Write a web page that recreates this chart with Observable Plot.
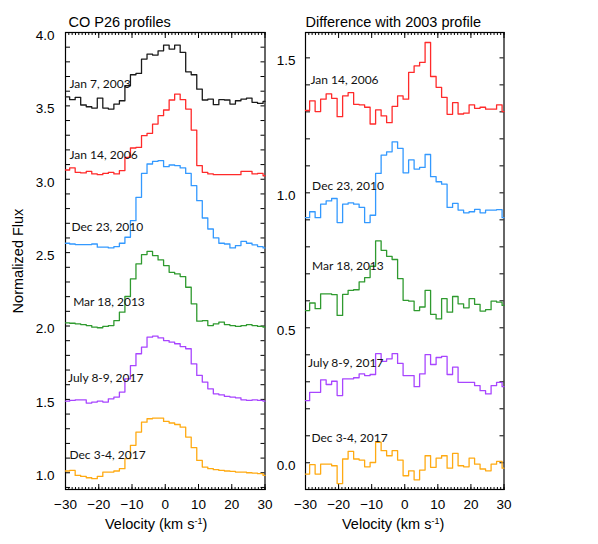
<!DOCTYPE html>
<html><head><meta charset="utf-8">
<script src="https://cdn.jsdelivr.net/npm/d3@7"></script>
<script src="https://cdn.jsdelivr.net/npm/@observablehq/plot@0.6"></script>
<style>
body{margin:0;background:#fff;}
#wrap{position:relative;width:598px;height:544px;overflow:hidden;}
#wrap svg{position:absolute;top:0;background:transparent;max-width:none;}
</style></head><body><div id="wrap"></div>
<script>
// Velocity bin left edges (km/s)
const velocityEdges = [-30, -28.75, -27.09, -25.43, -23.76, -22.10, -20.44, -18.78, -17.12, -15.45, -13.79, -12.13, -10.47, -8.81, -7.14, -5.48, -3.82, -2.16, -0.50, 1.17, 2.83, 4.49, 6.15, 7.81, 9.48, 11.14, 12.80, 14.46, 16.12, 17.79, 19.45, 21.11, 22.77, 24.43, 26.10, 27.76, 29.42];

// Left panel: CO P26 profiles (normalized flux, offset)
const jan2003 = [3.562, 3.542, 3.558, 3.506, 3.494, 3.485, 3.553, 3.485, 3.478, 3.512, 3.535, 3.637, 3.712, 3.721, 3.819, 3.853, 3.846, 3.875, 3.914, 3.887, 3.914, 3.864, 3.732, 3.712, 3.614, 3.540, 3.546, 3.508, 3.542, 3.540, 3.512, 3.535, 3.546, 3.553, 3.524, 3.517, 3.531];
const jan2006 = [3.063, 3.077, 3.047, 3.043, 3.054, 3.036, 3.031, 3.040, 3.047, 3.036, 3.059, 3.149, 3.213, 3.217, 3.297, 3.313, 3.376, 3.433, 3.472, 3.540, 3.580, 3.542, 3.478, 3.335, 3.093, 3.047, 3.036, 3.031, 3.031, 3.031, 3.031, 3.031, 3.054, 3.054, 3.036, 3.040, 3.024];
const dec2010 = [2.564, 2.559, 2.555, 2.555, 2.555, 2.559, 2.537, 2.537, 2.532, 2.541, 2.564, 2.605, 2.718, 2.877, 3.040, 3.104, 3.122, 3.127, 3.086, 3.097, 3.093, 3.077, 3.040, 2.956, 2.854, 2.736, 2.661, 2.600, 2.564, 2.559, 2.532, 2.548, 2.577, 2.564, 2.553, 2.541, 2.532];
const mar2013 = [2.022, 2.019, 2.015, 2.010, 2.003, 1.992, 1.988, 1.997, 2.003, 2.037, 2.094, 2.201, 2.321, 2.423, 2.487, 2.509, 2.480, 2.450, 2.412, 2.366, 2.355, 2.337, 2.264, 2.151, 2.033, 2.037, 2.003, 2.015, 2.026, 2.010, 2.003, 1.997, 2.003, 2.010, 2.003, 1.997, 1.992];
const jul2017 = [1.488, 1.493, 1.497, 1.497, 1.475, 1.482, 1.488, 1.482, 1.504, 1.516, 1.550, 1.640, 1.730, 1.811, 1.856, 1.924, 1.931, 1.919, 1.901, 1.890, 1.879, 1.860, 1.845, 1.742, 1.663, 1.618, 1.572, 1.538, 1.531, 1.520, 1.516, 1.511, 1.497, 1.493, 1.497, 1.493, 1.488];
const dec2017 = [1.012, 1.016, 0.982, 0.975, 0.966, 0.960, 0.975, 1.005, 1.005, 1.012, 1.028, 1.096, 1.187, 1.277, 1.345, 1.368, 1.373, 1.373, 1.350, 1.339, 1.329, 1.311, 1.243, 1.171, 1.084, 1.039, 1.028, 1.021, 1.016, 1.012, 1.010, 1.005, 1.005, 1.000, 0.998, 0.994, 0.982];

// Right panel: difference with 2003 profile (offset)
const diff2006 = [1.305, 1.341, 1.301, 1.347, 1.367, 1.350, 1.282, 1.359, 1.371, 1.328, 1.326, 1.317, 1.255, 1.307, 1.285, 1.260, 1.320, 1.359, 1.347, 1.446, 1.470, 1.483, 1.557, 1.431, 1.391, 1.354, 1.291, 1.334, 1.292, 1.295, 1.326, 1.313, 1.317, 1.310, 1.310, 1.326, 1.301];
const diff2010 = [0.908, 0.930, 0.908, 0.958, 0.970, 0.979, 0.890, 0.958, 0.963, 0.958, 0.946, 0.890, 0.917, 1.072, 1.140, 1.152, 1.189, 1.165, 1.074, 1.122, 1.088, 1.094, 1.142, 1.060, 1.041, 1.032, 0.946, 0.961, 0.936, 0.926, 0.930, 0.939, 0.926, 0.936, 0.936, 0.938, 0.908];
const diff2013 = [0.564, 0.592, 0.571, 0.626, 0.626, 0.623, 0.546, 0.624, 0.639, 0.641, 0.670, 0.686, 0.728, 0.822, 0.787, 0.765, 0.753, 0.682, 0.602, 0.599, 0.564, 0.577, 0.639, 0.550, 0.533, 0.608, 0.558, 0.616, 0.589, 0.574, 0.608, 0.587, 0.562, 0.567, 0.599, 0.595, 0.583];
const diffJul2017 = [0.230, 0.261, 0.261, 0.307, 0.290, 0.302, 0.249, 0.311, 0.311, 0.315, 0.329, 0.323, 0.327, 0.404, 0.376, 0.385, 0.404, 0.368, 0.323, 0.323, 0.282, 0.329, 0.401, 0.364, 0.390, 0.394, 0.327, 0.354, 0.298, 0.298, 0.298, 0.286, 0.267, 0.255, 0.286, 0.298, 0.282];
const diffDec2017 = [-0.042, -0.007, -0.042, -0.005, -0.005, -0.011, -0.077, 0.014, 0.042, 0.014, 0.010, -0.015, 0.001, 0.076, 0.045, 0.026, 0.045, 0.010, -0.048, -0.030, -0.063, -0.027, 0.026, -0.017, 0.017, 0.026, -0.020, 0.035, -0.011, -0.015, 0.017, -0.005, -0.023, -0.030, -0.005, 0.005, -0.020];

// Labels
const leftDates = ["Jan 7, 2003", "Jan 14, 2006", "Dec 23, 2010", "Mar 18, 2013", "July 8-9, 2017", "Dec 3-4, 2017"];
const rightDates = ["Jan 14, 2006", "Dec 23, 2010", "Mar 18, 2013", "July 8-9, 2017", "Dec 3-4, 2017"];
const leftLabelX = [-28.8, -28.8, -28.2, -27.7, -29.25, -28.8];
const leftLabelY = [3.651, 3.161, 2.671, 2.160, 1.643, 1.118];
const rightLabelX = [-28.5, -28.0, -28.0, -29.25, -28.2];
const rightLabelY = [1.416, 1.023, 0.727, 0.368, 0.090];

// Ticks
const xTickLabels = [-30, -20, -10, 0, 10, 20, 30];
const xMinorTicks = d3.range(-30, 31, 1);
const leftYTickLabels = [1.0, 1.5, 2.0, 2.5, 3.0, 3.5, 4.0];
const leftYMinor = d3.range(9, 41, 1).map(d => d / 10);
const rightYTickLabels = [0.0, 0.5, 1.0, 1.5];
const rightYMinor = d3.range(0, 16, 1).map(d => d / 10);

const leftColors = ["#1a1a1a", "#ff2a2a", "#3399ff", "#2f9a2f", "#a845ff", "#ffaa12"];
const rightColors = ["#ff2a2a", "#3399ff", "#2f9a2f", "#a845ff", "#ffaa12"];

function stepRows(vals, idx) {
  const rows = velocityEdges.map((v, i) => ({v, f: vals[i], s: idx}));
  rows.push({v: 30, f: vals[vals.length - 1], s: idx});
  return rows;
}

const MT = 32, MB = 55, H = 544, FH = H - MT - MB;
const fmtX = d => d < 0 ? "\u2212" + Math.abs(d) : String(d);
const FONT = "'Liberation Sans', Arial, Helvetica, sans-serif";

function panel({width, ml, mr, yDomain, series, colors, dates, lx, ly, yLabels, yMinor, title, titleDx, yTitle, labelPad}) {
  const FW = width - ml - mr;
  const rows = series.flatMap((s, i) => stepRows(s, i));
  const labels = dates.map((d, i) => ({t: d, x: lx[i], y: ly[i]}));
  // inward ticks: axis tick marks drawn from the opposite side and shifted across the frame
  const tk = {fill: "none", label: null, strokeWidth: 1};
  const marks = [
    Plot.frame({stroke: "currentColor", strokeWidth: 1.2}),
    Plot.axisX({...tk, anchor: "top", ticks: xMinorTicks, tickSize: 3, dy: FH}),
    Plot.axisX({...tk, anchor: "bottom", ticks: xMinorTicks, tickSize: 3, dy: -FH}),
    Plot.axisX({...tk, anchor: "top", ticks: xTickLabels, tickSize: 6, dy: FH}),
    Plot.axisX({...tk, anchor: "bottom", ticks: xTickLabels, tickSize: 6, dy: -FH}),
    Plot.axisY({...tk, anchor: "right", ticks: yMinor, tickSize: 4, dx: -FW}),
    Plot.axisY({...tk, anchor: "left", ticks: yMinor, tickSize: 4, dx: FW}),
    Plot.line(rows, {x: "v", y: "f", z: "s", stroke: d => colors[d.s], curve: "step-after", strokeWidth: 1.3}),
    Plot.axisX({anchor: "bottom", ticks: xTickLabels, tickSize: 0, tickPadding: 10, tickFormat: fmtX, label: null, fontSize: 13.5}),
    Plot.axisY({anchor: "left", ticks: yLabels, tickSize: 0, tickPadding: labelPad, tickFormat: d => d.toFixed(1), label: null, dy: 3, fontSize: 13.5}),
    Plot.text(labels, {x: "x", y: "y", text: "t", textAnchor: "start", fontFamily: "Lato, 'Open Sans', sans-serif", fontSize: 12, fill: "#111"}),
    Plot.text([title], {text: d => d, frameAnchor: "top-left", textAnchor: "start", dx: titleDx, dy: -16, fontSize: 14.5})
  ];
  if (yTitle) marks.push(Plot.text([yTitle], {text: d => d, frameAnchor: "left", textAnchor: "middle", rotate: -90, dx: -47, fontSize: 14.5}));
  return Plot.plot({
    width, height: H,
    marginLeft: ml, marginRight: mr, marginTop: MT, marginBottom: MB,
    x: {domain: [-30, 30]},
    y: {domain: yDomain},
    style: {fontFamily: FONT, fontSize: "13.5px", background: "transparent", color: "black"},
    marks
  });
}

function addXTitle(svgNode, x) {
  const t = d3.select(svgNode).append("text")
    .attr("x", x).attr("y", 529)
    .attr("text-anchor", "start")
    .attr("font-family", FONT)
    .attr("font-size", 14.5).attr("fill", "black");
  t.append("tspan").text("Velocity (km s");
  t.append("tspan").attr("dy", -5).attr("font-size", 9).text("-1");
  t.append("tspan").attr("dy", 5).text(")");
}

const wrap = document.getElementById("wrap");

const left = panel({
  width: 275, ml: 65, mr: 10.5, yDomain: [0.886, 4.0],
  series: [jan2003, jan2006, dec2010, mar2013, jul2017, dec2017], colors: leftColors,
  dates: leftDates, lx: leftLabelX, ly: leftLabelY,
  yLabels: leftYTickLabels, yMinor: leftYMinor,
  title: "CO P26 profiles", titleDx: 3, yTitle: "Normalized Flux", labelPad: 11
});
left.style.left = "0px";
addXTitle(left, 105);
wrap.appendChild(left);

const right = panel({
  width: 328, ml: 35, mr: 94.5, yDomain: [-0.099, 1.594],
  series: [diff2006, diff2010, diff2013, diffJul2017, diffDec2017], colors: rightColors,
  dates: rightDates, lx: rightLabelX, ly: rightLabelY,
  yLabels: rightYTickLabels, yMinor: rightYMinor,
  title: "Difference with 2003 profile", titleDx: 0, yTitle: null, labelPad: 10
});
right.style.left = "270px";
addXTitle(right, 72);
wrap.appendChild(right);
</script>
</body></html>
